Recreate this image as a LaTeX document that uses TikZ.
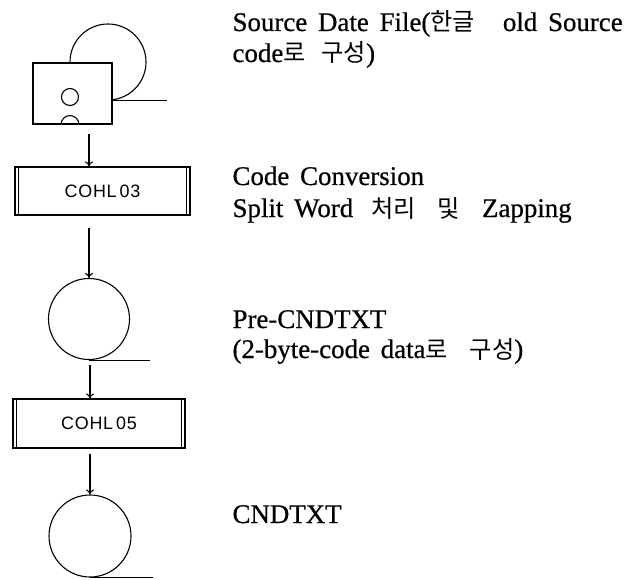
\documentclass[tikz,border=0pt]{standalone}
\usepackage{fontspec}
\setmainfont{Liberation Serif}[WordSpace=1.6, FakeBold=0.6]
\newfontfamily\kr{Noto Sans CJK KR}[Scale=0.9]
\newfontfamily\codefont{Liberation Sans}[LetterSpace=4]
\usetikzlibrary{arrows.meta}
\newcommand{\krgap}[1]{\hspace{#1bp}}
\begin{document}
\begin{tikzpicture}[x=1bp, y=-1bp, line width=1.1bp,
  flow/.style={-{To[length=5bp,width=8bp]}},
  procbox/.style={draw, fill=white, inner sep=0,
    font=\codefont\fontsize{18}{20}\selectfont},
  store/.style={circle, draw, inner sep=0},
  desc/.style={anchor=base west, inner sep=0,
    font=\fontsize{27}{32}\selectfont}]
  \useasboundingbox[fill=white] (0,0) rectangle (640,580);

  % tape reel behind the card reader
  \node[store, minimum size=76bp] (file1) at (108,62) {};
  \draw (file1.south) -- ++(59,0);
  % card reader
  \node[draw, fill=white, minimum width=79bp, minimum height=61bp, inner sep=0]
    (reader) at (72.5,93.5) {};
  \node[circle, draw, minimum size=17bp, inner sep=0] (hole) at (70,97) {};
  \draw ([xshift=-9bp]reader.south -| hole) arc[start angle=180, end angle=0, radius=9bp];

  % processing steps
  \node[procbox, minimum width=175bp, minimum height=48bp] (proc1) at (102.5,191) {COHL\,03};
  \node[procbox, minimum width=172bp, minimum height=49bp] (proc2) at (99,423.5) {COHL\,05};
  \foreach \p in {proc1, proc2} {
    \draw ([xshift=4bp]\p.north west) -- ([xshift=4bp]\p.south west);
    \draw ([xshift=-4bp]\p.north east) -- ([xshift=-4bp]\p.south east);
  }

  % intermediate and final files
  \node[store, minimum size=81bp] (store1) at (89,319) {};
  \draw (store1.south) -- ++(61,0);
  \node[store, minimum size=82bp] (store2) at (90,536) {};
  \draw (store2.south) -- ++(63,0);

  % data flow
  \draw[flow, shorten <=9bp] (reader.south -| store1) -- (proc1.north -| store1);
  \draw[flow, shorten <=12bp] (proc1.south -| store1) -- (store1.north);
  \draw[flow, shorten <=5bp] (store1.south -| store2) -- (proc2.north -| store2);
  \draw[flow, shorten <=5bp] (proc2.south -| store2) -- (store2.north);

  % descriptions
  \node[desc] (d1a) at (232,31) {Source Date File({\kr 한글}\krgap{28}old Source};
  \node[desc] (d1b) at (232,62) {code{\kr 로}\krgap{16}{\kr 구성})};
  \node[desc] (d2a) at (232,185) {Code Conversion};
  \node[desc] (d2b) at (232,217) {Split Word\krgap{18}{\kr 처리}\krgap{22}{\kr 및}\krgap{22}Zapping};
  \node[desc] (d3a) at (232,328) {Pre-CNDTXT};
  \node[desc] (d3b) at (232,358) {(2-byte-code data{\kr 로}\krgap{22}{\kr 구성})};
  \node[desc] (d4) at (232,523) {CNDTXT};
\end{tikzpicture}
\end{document}
